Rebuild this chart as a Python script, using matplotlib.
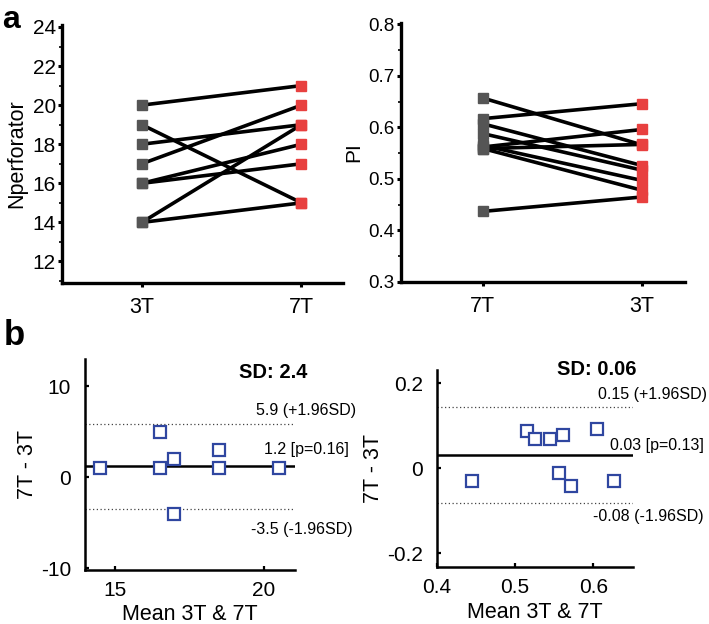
import matplotlib
matplotlib.use("Agg")
import matplotlib.pyplot as plt
from matplotlib.ticker import MultipleLocator

plt.rcParams['font.family'] = ['Liberation Sans', 'DejaVu Sans']
plt.rcParams['axes.unicode_minus'] = False

# panel a, left: number of perforators (3T -> 7T)
nperf_cats = ["3T", "7T"]
nperf_3t = [20, 19, 18, 17, 16, 16, 14, 14]
nperf_7t = [21, 15, 19, 20, 18, 17, 19, 15]

# panel a, right: pulsatility index (7T -> 3T)
pi_cats = ["7T", "3T"]
pi_7t = [0.437, 0.559, 0.565, 0.588, 0.607, 0.559, 0.562, 0.657, 0.617]
pi_3t = [0.465, 0.478, 0.497, 0.517, 0.526, 0.567, 0.596, 0.566, 0.646]

# panel b, left: Bland-Altman for Nperforator
ba1_mean = [14.5, 16.5, 16.5, 17.0, 17.0, 18.5, 18.5, 20.5]
ba1_diff = [1, 1, 5, 2, -4, 3, 1, 1]
ba1_bias, ba1_hi, ba1_lo = 1.2, 5.9, -3.5

# panel b, right: Bland-Altman for PI
ba2_mean = [0.445, 0.515, 0.525, 0.545, 0.561, 0.556, 0.571, 0.605, 0.626]
ba2_diff = [-0.031, 0.088, 0.069, 0.069, 0.078, -0.012, -0.042, 0.092, -0.031]
ba2_bias, ba2_hi, ba2_lo = 0.031, 0.145, -0.082

W, H = 709, 624
fig = plt.figure(figsize=(W / 100, H / 100), dpi=100)


def box(l, t, r, b):
    return [l / W, 1 - b / H, (r - l) / W, (b - t) / H]


gray = "#555555"
red = "#e8403f"
blue = "#2f46a0"


def paired(ax, a, b, cats, ytick_fs):
    for y0, y1 in zip(a, b):
        ax.plot([1, 2], [y0, y1], color="black", lw=2.6, zorder=2,
                solid_capstyle="butt")
    ax.plot([1] * len(a), a, "s", color=gray, ms=7.5, zorder=3)
    ax.plot([2] * len(b), b, "s", color=red, ms=7.5, zorder=3)
    ax.set_xticks([1, 2])
    ax.set_xticklabels(cats, fontsize=15.5)
    for s in ["top", "right"]:
        ax.spines[s].set_visible(False)
    for s in ["left", "bottom"]:
        ax.spines[s].set_linewidth(2.4)
    ax.tick_params(axis="both", which="major", direction="out", length=3,
                   width=2.2)
    ax.tick_params(axis="y", labelsize=ytick_fs, pad=1.5)
    ax.tick_params(axis="x", pad=7)
    ax.tick_params(axis="y", which="minor", direction="out", length=2,
                   width=1.2)


ax1 = fig.add_axes(box(62, 25, 343, 283))
paired(ax1, nperf_3t, nperf_7t, nperf_cats, 15)
ax1.set_xlim(0.5, 2.26)
ax1.set_ylim(10.9, 24.1)
ax1.set_yticks([12, 14, 16, 18, 20, 22, 24])
ax1.yaxis.set_minor_locator(MultipleLocator(1))
ax1.set_ylabel("Nperforator", fontsize=15.5, labelpad=4)

ax2 = fig.add_axes(box(401, 23, 685, 282))
paired(ax2, pi_7t, pi_3t, pi_cats, 13.5)
ax2.set_xlim(0.486, 2.27)
ax2.set_ylim(0.3, 0.8026)
ax2.set_yticks([0.3, 0.4, 0.5, 0.6, 0.7, 0.8])
ax2.set_yticklabels(["0.3", "0.4", "0.5", "0.6", "0.7", "0.8"])
ax2.yaxis.set_minor_locator(MultipleLocator(0.05))
ax2.set_ylabel("PI", fontsize=15, labelpad=4)


def bland(ax, m, d, bias, hi, lo, xl):
    ax.axhline(bias, color="black", lw=1.8, zorder=2)
    ax.axhline(hi, color="#444444", lw=0.9, ls=(0, (1, 2)), zorder=1)
    ax.axhline(lo, color="#444444", lw=0.9, ls=(0, (1, 2)), zorder=1)
    ax.plot(m, d, "s", mfc="white", mec=blue, mew=1.6, ms=8.5, zorder=3)
    ax.set_xlim(*xl)
    for s in ["top", "right"]:
        ax.spines[s].set_visible(False)
    for s in ["left", "bottom"]:
        ax.spines[s].set_linewidth(1.8)
    ax.tick_params(axis="both", direction="in", length=3, width=1.6,
                   labelsize=15)
    ax.tick_params(axis="x", pad=8)
    ax.tick_params(axis="y", pad=10)
    ax.set_xlabel("Mean 3T & 7T", fontsize=15.5, labelpad=3)
    ax.set_ylabel("7T - 3T", fontsize=15.5, labelpad=2)


ax3 = fig.add_axes(box(85, 359, 295, 570))
bland(ax3, ba1_mean, ba1_diff, ba1_bias, ba1_hi, ba1_lo, (14, 21.04))
ax3.set_ylim(-10.2, 13)
ax3.set_yticks([-10, 0, 10])
ax3.set_xticks([15, 20])
kw = dict(ha="right", va="center", fontsize=11.5, clip_on=False)
ax3.text(23.1, 7.3, f"{ba1_hi} (+1.96SD)", **kw)
ax3.text(22.86, 3.0, f"{ba1_bias} [p=0.16]", **kw)
ax3.text(22.98, -5.77, f"{ba1_lo} (-1.96SD)", **kw)
ax3.text(21.44, 11.56, "SD: 2.4", ha="right", va="center", fontsize=14.5,
         fontweight="bold", clip_on=False)

ax4 = fig.add_axes(box(436.7, 370, 633.3, 567.3))
bland(ax4, ba2_mean, ba2_diff, ba2_bias, ba2_hi, ba2_lo, (0.4, 0.651))
ax4.set_ylim(-0.233, 0.231)
ax4.set_yticks([-0.2, 0, 0.2])
ax4.set_yticklabels(["-0.2", "0", "0.2"])
ax4.set_xticks([0.4, 0.5, 0.6])
ax4.set_xticklabels(["0.4", "0.5", "0.6"])
ax4.text(0.745, 0.1725, "0.15 (+1.96SD)", **kw)
ax4.text(0.7405, 0.0525, "0.03 [p=0.13]", **kw)
ax4.text(0.7414, -0.114, "-0.08 (-1.96SD)", **kw)
ax4.text(0.6554, 0.233, "SD: 0.06", ha="right", va="center", fontsize=14.5,
         fontweight="bold", clip_on=False)

fig.text(2 / W, 1 - 28 / H, "a", fontsize=23, fontweight="bold",
         ha="left", va="baseline")
fig.text(4 / W, 1 - 345 / H, "b", fontsize=25, fontweight="bold",
         ha="left", va="baseline")

fig.savefig("out.png", dpi=100)
